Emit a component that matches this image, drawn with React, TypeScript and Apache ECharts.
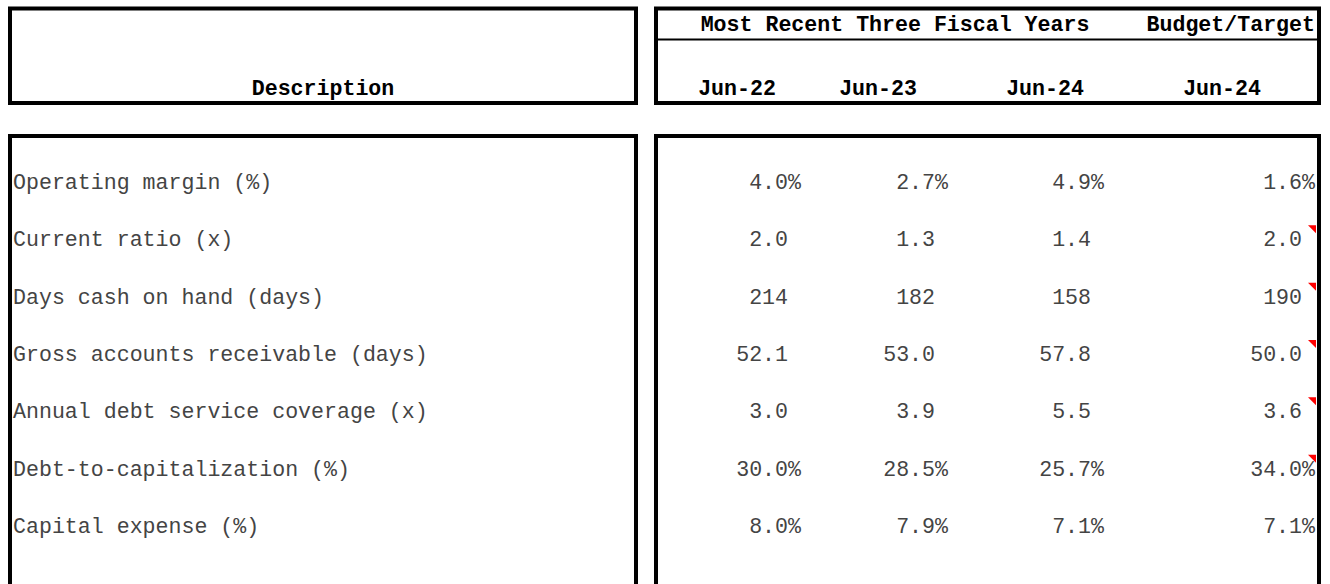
import React, { useEffect, useRef } from "react";
import * as echarts from "echarts";

// ---- data ----
const rowLabels = [
  "Operating margin (%)",
  "Current ratio (x)",
  "Days cash on hand (days)",
  "Gross accounts receivable (days)",
  "Annual debt service coverage (x)",
  "Debt-to-capitalization (%)",
  "Capital expense (%)",
];
const columnLabels = ["Jun-22", "Jun-23", "Jun-24", "Jun-24"];
const groupLabel = "Most Recent Three Fiscal Years";
const budgetLabel = "Budget/Target";
const descriptionLabel = "Description";

const fy2022 = [4.0, 2.0, 214, 52.1, 3.0, 30.0, 8.0];
const fy2023 = [2.7, 1.3, 182, 53.0, 3.9, 28.5, 7.9];
const fy2024 = [4.9, 1.4, 158, 57.8, 5.5, 25.7, 7.1];
const budget2024 = [1.6, 2.0, 190, 50.0, 3.6, 34.0, 7.1];
const decimals = [1, 1, 0, 1, 1, 1, 1];
const isPercent = [true, false, false, false, false, true, true];
const hasNote = [false, true, true, true, true, true, false];

const columns = [fy2022, fy2023, fy2024, budget2024];

// ---- layout / style ----
const W = 1330;
const H = 584;
const FONT = "'Liberation Mono', 'Courier New', monospace";
const FS = 21.6;
const CHAR_W = FS * 0.6;
const colRight = [801, 948, 1104, 1315];
const headerCenters = [737, 878, 1045, 1222];
const TEXT_COLOR = "#444444";

export default function App() {
  const ref = useRef<HTMLDivElement>(null);

  useEffect(() => {
    document.body.style.margin = "0";
    const chart = echarts.init(ref.current!, null, { renderer: "svg" });

    const cellData: any[] = [];
    columns.forEach((col, c) => {
      col.forEach((v, r) => {
        cellData.push([c, r, v]);
      });
    });
    const noteData: any[] = [];
    hasNote.forEach((n, r) => {
      if (n) noteData.push([3, r]);
    });

    const box = (x: number, y: number, w: number, h: number) => ({
      type: "rect",
      shape: { x, y, width: w, height: h },
      style: { fill: "none", stroke: "#000", lineWidth: 4 },
      silent: true,
    });
    const hText = (text: string, x: number, y: number, align: string) => ({
      type: "text",
      x,
      y,
      style: {
        text,
        fill: "#000",
        fontSize: FS,
        fontFamily: FONT,
        fontWeight: "bold",
        align,
        verticalAlign: "middle",
      },
      silent: true,
    });

    const option: any = {
      animation: false,
      backgroundColor: "#ffffff",
      grid: { left: 13, right: 14, top: 154.3, bottom: 28.3 },
      xAxis: {
        type: "value",
        min: 0,
        max: 3,
        show: false,
      },
      yAxis: {
        type: "category",
        inverse: true,
        data: rowLabels,
        axisLine: { show: false },
        axisTick: { show: false },
        splitLine: { show: false },
        axisLabel: {
          inside: true,
          margin: 0,
          align: "left",
          color: TEXT_COLOR,
          fontSize: FS,
          fontFamily: FONT,
        },
      },
      graphic: {
        elements: [
          box(10, 8.5, 626, 94.5),
          box(656, 8.5, 663, 94.5),
          box(10, 136, 626, 500),
          box(656, 136, 663, 500),
          {
            type: "line",
            shape: { x1: 656, y1: 39.5, x2: 1319, y2: 39.5 },
            style: { stroke: "#000", lineWidth: 2 },
            silent: true,
          },
          hText(descriptionLabel, 323, 89, "center"),
          hText(groupLabel, 895, 25, "center"),
          hText(budgetLabel, 1315, 25, "right"),
          ...columnLabels.map((l, i) => hText(l, headerCenters[i], 89, "center")),
        ],
      },
      series: [
        {
          type: "custom",
          name: "cells",
          data: cellData,
          renderItem: (params: any, api: any) => {
            const c = api.value(0);
            const r = api.value(1);
            const v = api.value(2);
            const y = api.coord([0, r])[1];
            const pct = isPercent[r];
            const text = v.toFixed(decimals[r]) + (pct ? "%" : "");
            const x = colRight[c] - (pct ? 0 : CHAR_W);
            return {
              type: "text",
              x,
              y,
              style: {
                text,
                fill: TEXT_COLOR,
                fontSize: FS,
                fontFamily: FONT,
                align: "right",
                verticalAlign: "middle",
              },
            };
          },
        },
        {
          type: "custom",
          name: "notes",
          data: noteData,
          renderItem: (params: any, api: any) => {
            const c = api.value(0);
            const r = api.value(1);
            const y = api.coord([0, r])[1];
            const xr = colRight[c] + 1;
            return {
              type: "polygon",
              shape: {
                points: [
                  [xr - 8, y - 15],
                  [xr, y - 15],
                  [xr, y - 7],
                ],
              },
              style: { fill: "#ff0000" },
            };
          },
        },
      ],
    };

    chart.setOption(option);
    return () => chart.dispose();
  }, []);

  return <div ref={ref} style={{ width: W, height: H }} />;
}
